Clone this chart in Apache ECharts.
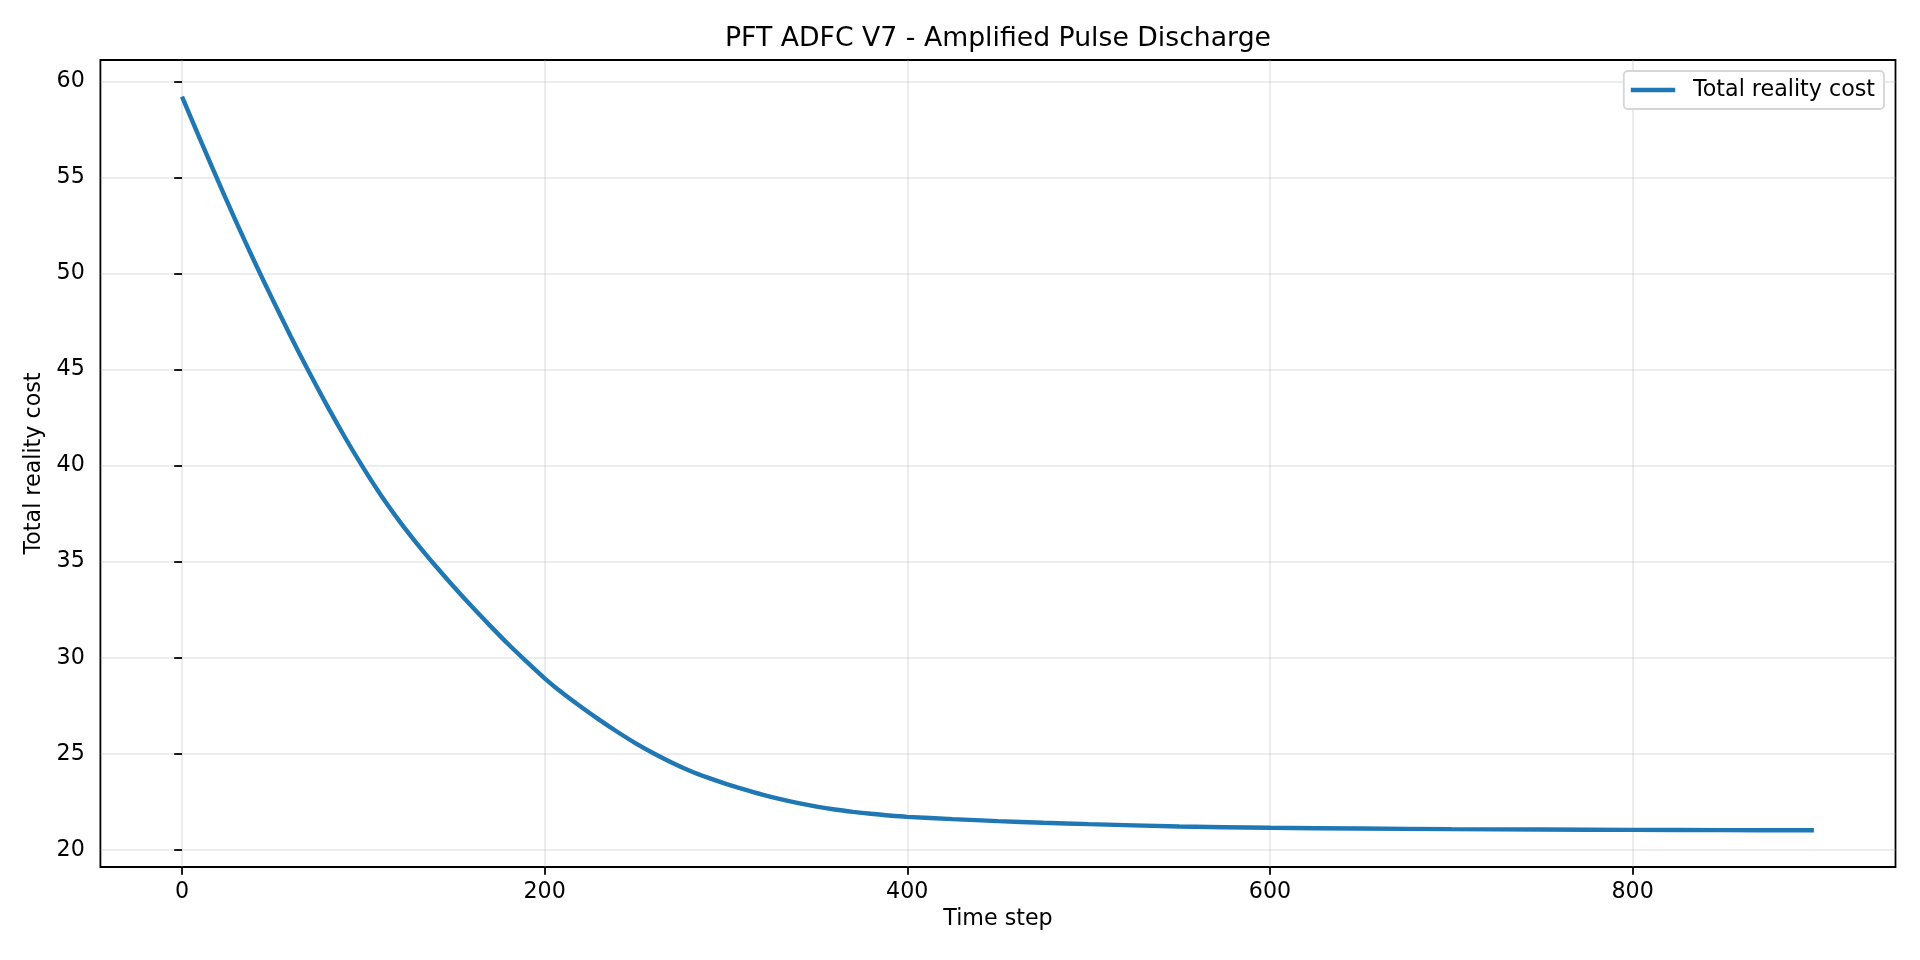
<!DOCTYPE html>
<html>
<head>
<meta charset="utf-8">
<title>PFT ADFC V7 - Amplified Pulse Discharge</title>
<script src="https://cdn.jsdelivr.net/npm/echarts@6/dist/echarts.min.js"></script>
<style>
  html, body { margin: 0; padding: 0; background: #fff; }
  #chart { width: 1920px; height: 960px; }
</style>
</head>
<body>
<div id="chart"></div>
<script>
/* Time steps and total reality cost */
const timeSteps = [
  0, 10, 20, 30, 40, 50, 60, 70, 80, 90,
  100, 110, 120, 130, 140, 150, 160, 170, 180, 190,
  200, 210, 220, 230, 240, 250, 260, 270, 280, 290,
  300, 310, 320, 330, 340, 350, 360, 370, 380, 390,
  400, 425, 450, 475, 500, 550, 600, 650, 700, 750,
  800, 850, 900,
];
const realityCost = [
  59.2, 56.98, 54.79, 52.66, 50.61, 48.64, 46.72, 44.88, 43.12, 41.45,
  39.88, 38.42, 37.1, 35.89, 34.76, 33.68, 32.65, 31.66, 30.7, 29.8,
  28.93, 28.15, 27.45, 26.78, 26.15, 25.56, 25.03, 24.55, 24.12, 23.76,
  23.44, 23.15, 22.88, 22.64, 22.43, 22.25, 22.1, 21.98, 21.88, 21.79,
  21.72, 21.6, 21.5, 21.41, 21.34, 21.22, 21.15, 21.11, 21.08, 21.06,
  21.04, 21.03, 21.02,
];
const xTicks = [0, 200, 400, 600, 800];
const yTicks = [20, 25, 30, 35, 40, 45, 50, 55, 60];

const FONT = "DejaVu Sans";
const LINE_BLUE = "#1f77b4";
const GRID_GRAY = "rgba(176,176,176,0.3)";

const chart = echarts.init(document.getElementById("chart"), null, { renderer: "canvas" });

chart.setOption({
  animation: false,
  backgroundColor: "#fff",
  textStyle: { fontFamily: FONT },
  title: {
    text: "PFT ADFC V7 - Amplified Pulse Discharge",
    left: 998,
    top: 25.5,
    textAlign: "center",
    padding: 0,
    textStyle: { fontFamily: FONT, fontSize: 26.7, fontWeight: "normal", color: "#000" },
  },
  legend: {
    right: 36,
    top: 71,
    orient: "vertical",
    padding: [8, 9, 8, 7],
    backgroundColor: "#fff",
    borderColor: "#d6d6d6",
    borderWidth: 1.8,
    borderRadius: 4,
    icon: "rect",
    itemWidth: 44.4,
    itemHeight: 4.4,
    textStyle: { fontFamily: FONT, fontSize: 22.2, color: "#000", padding: [0, 0, 0, 12.8] },
    data: ["Total reality cost"],
  },
  grid: {
    left: 100.4,
    right: 24.5,
    top: 60,
    bottom: 93,
    show: true,
    borderColor: "#000",
    borderWidth: 1.78,
    backgroundColor: "transparent",
    outerBoundsMode: "none",
  },
  xAxis: {
    type: "value",
    min: -45,
    max: 945,
    name: "Time step",
    nameLocation: "middle",
    nameGap: 40,
    nameTextStyle: { fontFamily: FONT, fontSize: 22.2, color: "#000" },
    axisLine: { show: false },
    axisTick: {
      show: true,
      inside: false,
      length: 7.8,
      customValues: xTicks,
      lineStyle: { color: "#000", width: 1.78 },
    },
    axisLabel: {
      customValues: xTicks,
      margin: 14.5,
      fontFamily: FONT,
      fontSize: 22.2,
      color: "#000",
    },
    splitLine: { show: true, lineStyle: { color: GRID_GRAY, width: 1.6 } },
  },
  yAxis: {
    type: "value",
    min: 19.11,
    max: 61.11,
    name: "Total reality cost",
    nameLocation: "middle",
    nameGap: 55,
    nameTextStyle: { fontFamily: FONT, fontSize: 22.2, color: "#000" },
    axisLine: { show: false },
    axisTick: {
      show: true,
      inside: false,
      length: 7.8,
      customValues: yTicks,
      lineStyle: { color: "#000", width: 1.78 },
    },
    axisLabel: {
      customValues: yTicks,
      margin: 15.6,
      fontFamily: FONT,
      fontSize: 22.2,
      color: "#000",
    },
    splitLine: { show: true, lineStyle: { color: GRID_GRAY, width: 1.6 } },
  },
  series: [
    {
      name: "Total reality cost",
      type: "line",
      data: timeSteps.map((t, i) => [t, realityCost[i]]),
      showSymbol: false,
      smooth: 0.3,
      color: LINE_BLUE,
      lineStyle: { color: LINE_BLUE, width: 4.4 },
      z: 3,
    },
  ],
});
</script>
</body>
</html>
